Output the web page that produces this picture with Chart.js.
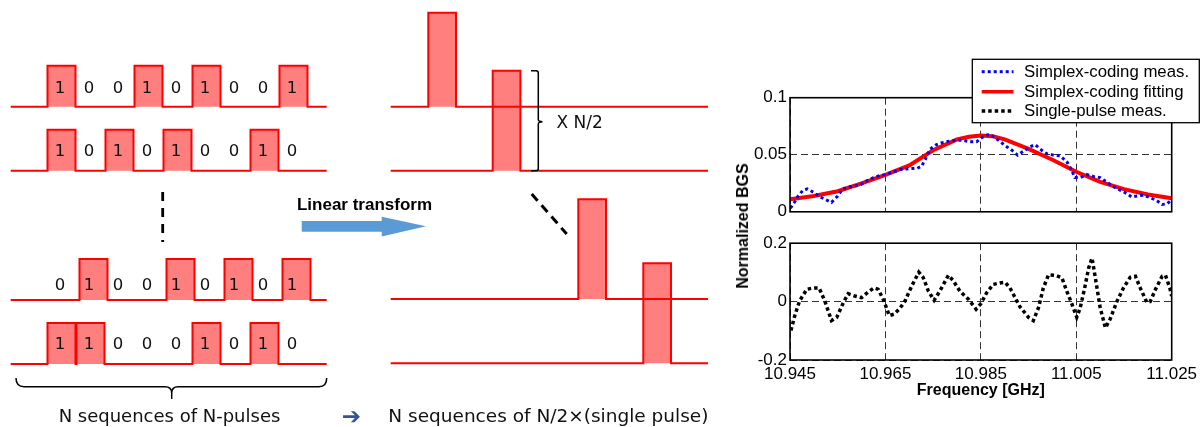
<!DOCTYPE html>
<html><head><meta charset="utf-8">
<script src="https://cdn.jsdelivr.net/npm/chart.js@4.4.0/dist/chart.umd.min.js"></script>
<style>
html,body{margin:0;padding:0;background:#fff;}
body{width:1203px;height:427px;position:relative;overflow:hidden;}
canvas{position:absolute;}
#ytitle{position:absolute;left:743px;top:226px;transform:translate(-50%,-50%) rotate(-90deg);font:bold 16px "Liberation Sans",Arial,sans-serif;white-space:nowrap;color:#000;}
</style></head><body>
<canvas id="diagram" width="730" height="427" style="left:0;top:0"></canvas>
<canvas id="topc" width="473" height="175" style="left:730px;top:50px"></canvas>
<canvas id="botc" width="473" height="197" style="left:730px;top:230px"></canvas>
<div id="ytitle">Normalized BGS</div>
<script>
// ---------------- DATA ----------------
const seqBits = [
  [1,0,0,1,0,1,0,0,1],
  [1,0,1,0,1,0,0,1,0],
  [0,1,0,0,1,0,1,0,1],
  [1,1,0,0,0,1,0,1,0]
];
const freqMeas = [10.9451,10.946,10.9467,10.9477,10.9486,10.950,10.951,10.9523,10.9537,10.955,10.956,10.9576,10.9597,10.961,10.9625,10.9639,10.965,10.9667,10.968,10.970,10.9716,10.9726,10.9733,10.9744,10.9757,10.9771,10.9785,10.9799,10.9813,10.9827,10.9841,10.9855,10.9868,10.988,10.989,10.9901,10.9915,10.9927,10.994,10.9953,10.9964,10.9974,10.9988,11.0002,11.0016,11.003,11.004,11.0047,11.0058,11.0072,11.0086,11.010,11.0114,11.0128,11.0142,11.0156,11.0166,11.0177,11.0191,11.0205,11.0219,11.023,11.024,11.0248];
const simplexMeas = [0.0033,0.0088,0.0138,0.0188,0.020,0.017,0.0138,0.011,0.0083,0.0138,0.020,0.022,0.0235,0.027,0.030,0.0318,0.0326,0.035,0.037,0.0378,0.038,0.040,0.0456,0.055,0.0588,0.0608,0.062,0.0627,0.0627,0.0613,0.0613,0.066,0.068,0.065,0.0616,0.058,0.054,0.0497,0.0533,0.057,0.0588,0.055,0.051,0.0497,0.049,0.044,0.0367,0.030,0.030,0.0326,0.031,0.030,0.026,0.022,0.019,0.016,0.013,0.0138,0.0146,0.0124,0.0097,0.0064,0.007,0.0097];
const freqFit = [10.945,10.950,10.955,10.960,10.965,10.970,10.975,10.980,10.9825,10.985,10.9875,10.990,10.995,11.000,11.005,11.010,11.015,11.020,11.025];
const simplexFit = [0.011,0.0138,0.018,0.0249,0.0323,0.0406,0.0539,0.0635,0.0658,0.0668,0.0662,0.0635,0.0552,0.0456,0.0351,0.0262,0.0199,0.0152,0.0119];
const freqSingle = [10.9452,10.946,10.947,10.9485,10.9499,10.9511,10.9523,10.9537,10.9548,10.9562,10.9572,10.9586,10.96,10.9614,10.9626,10.9635,10.9647,10.9658,10.9668,10.968,10.9691,10.9705,10.972,10.9729,10.974,10.9752,10.9764,10.9782,10.9792,10.9806,10.9824,10.984,10.985,10.9862,10.9876,10.989,10.9901,10.9911,10.9932,10.995,10.996,10.9971,10.9981,10.9992,11.0006,11.002,11.003,11.0041,11.0051,11.0058,11.0067,11.0076,11.0083,11.009,11.01,11.0111,11.0121,11.0135,11.0149,11.0163,11.0174,11.0184,11.0198,11.0205,11.0216,11.023,11.0237,11.0246,11.025];
const singleMeas = [-0.099,-0.048,0.002,0.042,0.047,0.047,0.002,-0.065,-0.054,-0.003,0.027,0.019,0.0135,0.033,0.047,0.042,0.002,-0.048,-0.043,-0.024,0.002,0.053,0.101,0.083,0.036,0.0045,0.036,0.09,0.072,0.036,0.008,-0.026,-0.007,0.03,0.059,0.064,0.066,0.047,-0.018,-0.054,-0.065,-0.02,0.047,0.092,0.09,0.081,0.036,-0.009,-0.054,-0.023,0.042,0.115,0.149,0.081,-0.02,-0.09,-0.06,0,0.047,0.083,0.087,0.047,-0.003,0,0.042,0.087,0.09,0.047,0.019];
const xTicks = [10.945,10.965,10.985,11.005,11.025];
const topYTicks = [0,0.05,0.1];
const botYTicks = [-0.2,0,0.2];
const legendLabels = ['Simplex-coding meas.','Simplex-coding fitting','Single-pulse meas.'];
const xTitle = 'Frequency [GHz]';
const texts = {
  transform: 'Linear transform',
  leftCaption: 'N sequences of N-pulses',
  arrow: '\u2794',
  rightCaption: 'N sequences of N/2\u00d7(single pulse)',
  scale: 'X N/2'
};

// ---------------- LAYOUT / STYLE ----------------
const L = {
  leftX0: 10.7, leftX1: 326.7, leftBase: [106.7,170.7,300,364], rowShift: [0,0,3,0],
  slot0: 47.5, slotW: 29, pulseW: 28, pulseH: 41,
  digitX0: 60, digitRise: [17.5,19,14.5,19],
  midX0: 390.7, midX1: 708, midBase: [106.7,170.7,299,363.3],
  midPulseX: [428.3,492.7,578.3,643.3], midPulseW: 27.7, midPulseH: [94,100,99.7,100]
};
const RED = '#ff0000', FILL = 'rgba(255,0,0,0.5)';
const sBlue = {color:'#0000ff', w:3, dash:[3,3]};
const sRed = {color:'#ff0000', w:4, dash:[]};
const sBlack = {color:'#000000', w:3.5, dash:[3.5,3]};

function train(x0, x1, base, pulses, h) {
  const pts = [{x:x0, y:base}];
  pulses.forEach(([a,b]) => { pts.push({x:a,y:base},{x:a,y:base-h},{x:b,y:base-h},{x:b,y:base}); });
  pts.push({x:x1, y:base});
  return {data: pts, borderColor: RED, borderWidth: 2, backgroundColor: FILL,
          fill: {value: base}, pointRadius: 0, tension: 0};
}
const diagDatasets = [];
seqBits.forEach((bits, r) => {
  const pulses = [];
  bits.forEach((b,k) => { if (b) { const a = L.slot0 + L.slotW*k + L.rowShift[r]; pulses.push([a, a+L.pulseW]); } });
  diagDatasets.push(train(L.leftX0, L.leftX1, L.leftBase[r], pulses, L.pulseH));
});
L.midBase.forEach((base, r) => {
  const a = L.midPulseX[r];
  diagDatasets.push(train(L.midX0, L.midX1, base, [[a, a+L.midPulseW]], L.midPulseH[r]));
});

const decor = {
  id: 'decor',
  afterDatasetsDraw(chart) {
    const {ctx, scales:{x, y}} = chart;
    const px = v => x.getPixelForValue(v), py = v => y.getPixelForValue(v);
    ctx.save();
    // digits
    ctx.fillStyle = '#111'; ctx.font = '16.5px "DejaVu Sans"'; ctx.textAlign = 'center'; ctx.textBaseline = 'middle';
    seqBits.forEach((bits, r) => bits.forEach((b, k) => {
      ctx.fillText(String(b), px(L.digitX0 + L.slotW*k), py(L.leftBase[r] - L.digitRise[r]));
    }));
    // dashed continuation lines
    ctx.strokeStyle = '#000'; ctx.lineWidth = 2.8; ctx.setLineDash([9,7]);
    ctx.beginPath(); ctx.moveTo(px(162.7), py(192)); ctx.lineTo(px(162.7), py(242)); ctx.stroke();
    ctx.setLineDash([9,6]); ctx.lineWidth = 3;
    ctx.beginPath(); ctx.moveTo(px(531.7), py(194)); ctx.lineTo(px(566.7), py(234)); ctx.stroke();
    ctx.setLineDash([]);
    // brace under left block
    ctx.lineWidth = 1.5;
    ctx.beginPath();
    ctx.moveTo(px(16), py(378)); ctx.quadraticCurveTo(px(16), py(386.7), px(24), py(386.7));
    ctx.lineTo(px(165), py(386.7)); ctx.quadraticCurveTo(px(171.7), py(386.7), px(171.7), py(393)); ctx.lineTo(px(171.7), py(399));
    ctx.moveTo(px(171.7), py(393)); ctx.quadraticCurveTo(px(171.7), py(386.7), px(178), py(386.7));
    ctx.lineTo(px(319), py(386.7)); ctx.quadraticCurveTo(px(326.7), py(386.7), px(326.7), py(378));
    ctx.stroke();
    // bracket for X N/2
    ctx.beginPath();
    ctx.moveTo(px(531), py(70.7)); ctx.lineTo(px(536), py(70.7)); ctx.quadraticCurveTo(px(538.3), py(70.7), px(538.3), py(73));
    ctx.lineTo(px(538.3), py(119.5)); ctx.quadraticCurveTo(px(538.3), py(121.7), px(542.5), py(121.7));
    ctx.moveTo(px(538.3), py(124)); ctx.quadraticCurveTo(px(538.3), py(121.7), px(542.5), py(121.7));
    ctx.moveTo(px(538.3), py(124)); ctx.lineTo(px(538.3), py(168.4)); ctx.quadraticCurveTo(px(538.3), py(170.7), px(536), py(170.7));
    ctx.lineTo(px(531), py(170.7));
    ctx.stroke();
    ctx.font = '17px "DejaVu Sans"'; ctx.textAlign = 'left'; ctx.fillStyle = '#111';
    ctx.fillText(texts.scale, px(556.5), py(123.5));
    // blue transform arrow
    ctx.fillStyle = '#5b9bd5';
    ctx.beginPath();
    ctx.moveTo(px(301.7), py(221)); ctx.lineTo(px(381.7), py(221)); ctx.lineTo(px(381.7), py(216.7));
    ctx.lineTo(px(426), py(226.3)); ctx.lineTo(px(381.7), py(236.5)); ctx.lineTo(px(381.7), py(231.7));
    ctx.lineTo(px(301.7), py(231.7)); ctx.closePath(); ctx.fill();
    ctx.fillStyle = '#000'; ctx.font = 'bold 17px "Liberation Sans"'; ctx.textAlign = 'center';
    ctx.fillText(texts.transform, px(364.5), py(205));
    // captions
    ctx.font = '18px "DejaVu Sans"'; ctx.fillStyle = '#111';
    ctx.fillText(texts.leftCaption, px(169.5), py(417));
    ctx.fillStyle = '#2f5597'; ctx.font = 'bold 23px "DejaVu Sans"';
    ctx.fillText(texts.arrow, px(351.5), py(418));
    ctx.fillStyle = '#111'; ctx.textAlign = 'left'; ctx.font = '18.5px "DejaVu Sans"';
    ctx.fillText(texts.rightCaption, px(388.3), py(417));
    ctx.restore();
  }
};

new Chart(document.getElementById('diagram'), {
  type: 'line',
  data: {datasets: diagDatasets},
  options: {
    responsive: false, animation: false, devicePixelRatio: 1,
    layout: {padding: 0},
    plugins: {legend: {display: false}, tooltip: {enabled: false}},
    scales: {
      x: {type: 'linear', min: 0, max: 730, display: false},
      y: {type: 'linear', min: 0, max: 427, reverse: true, display: false}
    }
  },
  plugins: [decor]
});

// ---------------- PLOTS ----------------
const FONT = '"Liberation Sans", Arial, sans-serif';
const boxPlugin = {
  id: 'box',
  afterDatasetsDraw(chart) {
    const {ctx, chartArea: a} = chart;
    ctx.save(); ctx.strokeStyle = '#000'; ctx.lineWidth = 1.6; ctx.setLineDash([]);
    ctx.strokeRect(a.left, a.top, a.right - a.left, a.bottom - a.top);
    ctx.restore();
  }
};
const legendStyles = [sBlue, sRed, sBlack];
const legendPlugin = {
  id: 'legendBox',
  afterDraw(chart) {
    const ctx = chart.ctx;
    ctx.save();
    const bx = 242.3, by = 9.3, bw = 227, bh = 63.4;
    ctx.fillStyle = '#fff'; ctx.fillRect(bx, by, bw, bh);
    ctx.strokeStyle = '#000'; ctx.lineWidth = 1.3; ctx.strokeRect(bx, by, bw, bh);
    const rows = [21.7, 41.7, 61];
    legendLabels.forEach((lab, i) => {
      const s = legendStyles[i];
      ctx.beginPath(); ctx.setLineDash(s.dash); ctx.lineWidth = s.w === 4 ? 3.4 : s.w; ctx.strokeStyle = s.color;
      ctx.moveTo(251.7, rows[i]); ctx.lineTo(283.5, rows[i]); ctx.stroke();
      ctx.setLineDash([]);
      ctx.fillStyle = '#000'; ctx.font = '16.8px ' + FONT; ctx.textBaseline = 'middle'; ctx.textAlign = 'left';
      ctx.fillText(lab, 294, rows[i] + 0.5);
    });
    ctx.restore();
  }
};
function lineDs(xs, ys, s) {
  return {data: xs.map((v,i) => ({x: v, y: ys[i]})), borderColor: s.color, borderWidth: s.w,
          borderDash: s.dash, borderCapStyle: 'butt', pointRadius: 0, fill: false, tension: 0};
}
function xScale(showLabels, h) {
  return {
    type: 'linear', min: xTicks[0], max: xTicks[xTicks.length-1],
    afterBuildTicks: sc => { sc.ticks = xTicks.map(v => ({value: v})); },
    afterFit: sc => { sc.height = h; },
    grid: {color: '#333', lineWidth: 1, drawTicks: false},
    border: {display: false, dash: [7,4]},
    ticks: {display: showLabels, maxRotation: 0, autoSkip: false, padding: 4,
            color: '#000', font: {family: FONT, size: 17}, callback: v => Number(v).toFixed(3)},
    title: {display: showLabels, text: xTitle, color: '#000', font: {family: FONT, size: 16, weight: 'bold'},
            padding: {top: 0, bottom: 27}}
  };
}
function yScale(ticks) {
  return {
    type: 'linear', min: ticks[0], max: ticks[ticks.length-1],
    afterBuildTicks: sc => { sc.ticks = ticks.map(v => ({value: v})); },
    afterFit: sc => { sc.width = 60; },
    grid: {color: '#333', lineWidth: 1, drawTicks: false},
    border: {display: false, dash: [7,4]},
    ticks: {padding: 3, color: '#000', font: {family: FONT, size: 17}, callback: v => String(v)}
  };
}
const common = {responsive: false, animation: false, devicePixelRatio: 1,
  plugins: {legend: {display: false}, tooltip: {enabled: false}}};

new Chart(document.getElementById('topc'), {
  type: 'line',
  data: {datasets: [lineDs(freqMeas, simplexMeas, sBlue), lineDs(freqFit, simplexFit, sRed)]},
  options: Object.assign({}, common, {
    layout: {padding: {top: 47.7, right: 31.3, left: 0, bottom: 0}},
    scales: {x: xScale(false, 6.7), y: yScale(topYTicks)}
  }),
  plugins: [boxPlugin, legendPlugin]
});
new Chart(document.getElementById('botc'), {
  type: 'line',
  data: {datasets: [lineDs(freqSingle, singleMeas, sBlack)]},
  options: Object.assign({}, common, {
    layout: {padding: {top: 11.7, right: 31.3, left: 0, bottom: 0}},
    scales: {x: xScale(true, 67), y: yScale(botYTicks)}
  }),
  plugins: [boxPlugin]
});
</script>
</body></html>
